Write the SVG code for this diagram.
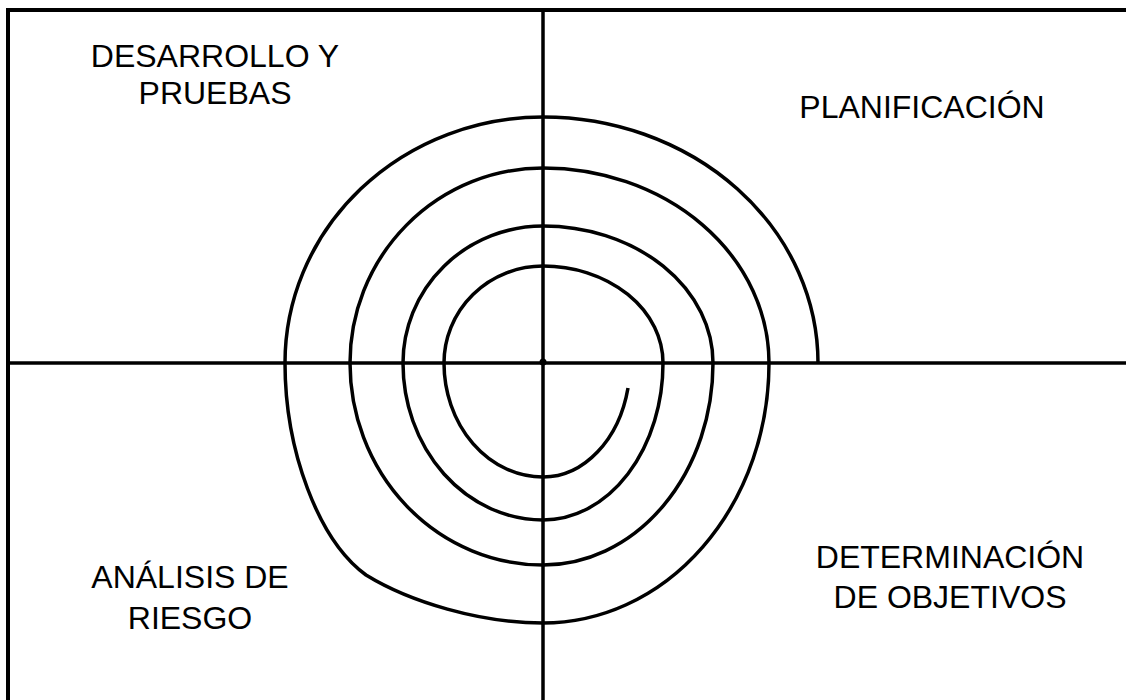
<svg xmlns="http://www.w3.org/2000/svg" width="1126" height="700" viewBox="0 0 1126 700">
<style>
.ln{fill:none;stroke:#000;stroke-width:3.5;stroke-linecap:butt;stroke-linejoin:round}
.fr{fill:none;stroke:#000;stroke-width:4}
.lb{font-family:"Liberation Sans",Arial,sans-serif;font-size:32px;fill:#000;text-anchor:middle}
</style>
<rect width="1126" height="700" fill="#fff"/>
<g id="frame">
<rect class="fr" x="8" y="10" width="1140" height="720"/>
</g>
<g id="connectors">
<line class="ln" x1="8" y1="363" x2="1126" y2="363"/>
<line class="ln" x1="543" y1="10" x2="543" y2="700"/>
<circle cx="543" cy="362" r="3.5" fill="#000"/>
<path class="ln" d="M628 388 A87 114 0 0 1 543 477 A99 114 0 0 1 444 363 A99 97 0 0 1 543 266 A120 97 0 0 1 663 363 A120 157 0 0 1 543 520 A140 157 0 0 1 403 363 A140 137 0 0 1 543 226 A170 137 0 0 1 713 363 A170 202 0 0 1 543 565 A193 202 0 0 1 350 363 A193 195 0 0 1 543 168 A226 195 0 0 1 769 363 A226 260 0 0 1 543 623 C480 623 410 602 366 575 C318 540 285 450 285 363 A258 246 0 0 1 543 117 A275 246 0 0 1 818 363"/>
</g>
<g id="desarrollo">
<text class="lb" x="215" y="67">DESARROLLO Y</text>
<text class="lb" x="215" y="104">PRUEBAS</text>
</g>
<g id="planificacion">
<text class="lb" x="922" y="118">PLANIFICACIÓN</text>
</g>
<g id="analisis">
<text class="lb" x="190" y="588">ANÁLISIS DE</text>
<text class="lb" x="190" y="629">RIESGO</text>
</g>
<g id="determinacion">
<text class="lb" x="950" y="568">DETERMINACIÓN</text>
<text class="lb" x="950" y="608">DE OBJETIVOS</text>
</g>
</svg>
